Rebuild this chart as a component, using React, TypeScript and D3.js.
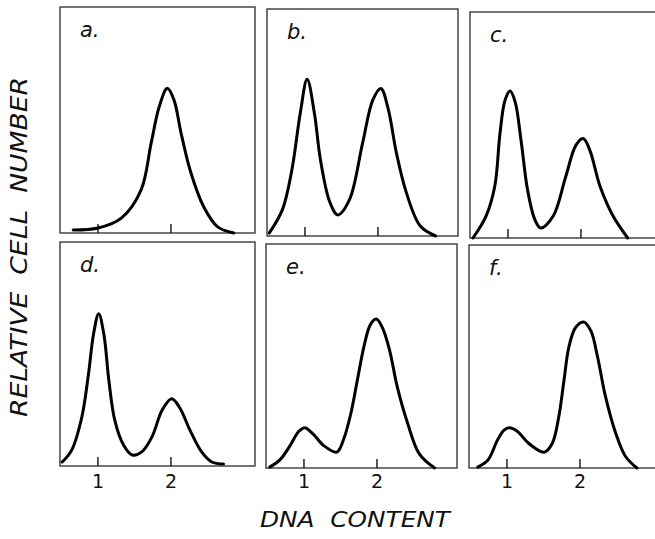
import * as d3 from "d3";

// DNA content (x) and relative cell number (y, fraction of panel height) per panel
const aDna = [0.66, 1.0, 1.32, 1.59, 1.73, 1.84, 1.95, 2.04, 2.14, 2.27, 2.45, 2.64, 2.86];
const aCells = [0.013, 0.022, 0.066, 0.19, 0.4, 0.56, 0.64, 0.59, 0.44, 0.27, 0.115, 0.027, 0];

const bDna = [0.51, 0.69, 0.82, 0.935, 1.03, 1.13, 1.21, 1.34, 1.45, 1.61, 1.79, 1.93, 2.04, 2.14, 2.25, 2.39, 2.58, 2.79];
const bCells = [0.013, 0.115, 0.29, 0.54, 0.69, 0.54, 0.34, 0.15, 0.093, 0.16, 0.41, 0.6, 0.65, 0.56, 0.37, 0.19, 0.044, 0];

const cDna = [0.52, 0.7, 0.82, 0.89, 0.96, 1.03, 1.1, 1.18, 1.27, 1.37, 1.45, 1.62, 1.79, 1.93, 2.03, 2.12, 2.26, 2.44, 2.64];
const cCells = [0, 0.097, 0.23, 0.46, 0.61, 0.65, 0.6, 0.43, 0.21, 0.08, 0.044, 0.097, 0.27, 0.41, 0.44, 0.39, 0.23, 0.097, 0];

const dDna = [0.51, 0.64, 0.78, 0.87, 0.94, 1.01, 1.08, 1.15, 1.23, 1.35, 1.47, 1.6, 1.74, 1.88, 2.01, 2.12, 2.26, 2.42, 2.56, 2.72];
const dCells = [0.018, 0.071, 0.22, 0.41, 0.59, 0.68, 0.59, 0.38, 0.205, 0.094, 0.049, 0.063, 0.13, 0.25, 0.3, 0.26, 0.16, 0.063, 0.018, 0.009];

const eDna = [0.53, 0.67, 0.81, 0.92, 1.01, 1.13, 1.27, 1.45, 1.54, 1.64, 1.73, 1.82, 1.91, 1.99, 2.07, 2.17, 2.28, 2.42, 2.58, 2.79];
const eCells = [0.004, 0.036, 0.1, 0.16, 0.18, 0.15, 0.1, 0.071, 0.125, 0.24, 0.39, 0.54, 0.64, 0.665, 0.63, 0.53, 0.36, 0.2, 0.063, 0];

const fDna = [0.6, 0.74, 0.87, 0.96, 1.03, 1.14, 1.3, 1.51, 1.62, 1.71, 1.78, 1.85, 1.94, 2.05, 2.15, 2.24, 2.35, 2.49, 2.62, 2.78];
const fCells = [0.004, 0.036, 0.125, 0.17, 0.18, 0.165, 0.11, 0.071, 0.11, 0.23, 0.39, 0.545, 0.63, 0.655, 0.615, 0.5, 0.32, 0.156, 0.054, 0];

const panelLabels = ["a.", "b.", "c.", "d.", "e.", "f."];
const tickValues = [1, 2];
const tickLabels = ["1", "2"];
const xTitle = "DNA  CONTENT";
const yTitle = "RELATIVE  CELL  NUMBER";

const series = [
  [aDna, aCells],
  [bDna, bCells],
  [cDna, cCells],
  [dDna, dCells],
  [eDna, eCells],
  [fDna, fCells],
];

// frame geometry (scan is slightly tilted)
const frames = [
  { left: 60, top: 7, bottom: 233, width: 195 },
  { left: 267, top: 9, bottom: 236, width: 191 },
  { left: 470, top: 12, bottom: 238, width: 195 },
  { left: 60, top: 242, bottom: 466, width: 195 },
  { left: 266, top: 244, bottom: 468, width: 191 },
  { left: 469, top: 245, bottom: 468, width: 195 },
];

const pxPerUnit = 73;
const domainStart = 0.48;
const font = "'DejaVu Sans', sans-serif";

export default function App() {
  return (
    <svg
      width={655}
      height={539}
      style={{ position: "absolute", left: 0, top: 0, background: "#fff" }}
    >
      {frames.map((f, i) => {
        const x = d3
          .scaleLinear()
          .domain([domainStart, domainStart + f.width / pxPerUnit])
          .range([f.left, f.left + f.width]);
        const y = d3.scaleLinear().domain([0, 1]).range([f.bottom, f.top]);
        const [xs, ys] = series[i];
        const line = d3
          .line<number>()
          .x((_, j) => x(xs[j]))
          .y((d) => Math.min(y(d), f.bottom))
          .curve(d3.curveCatmullRom.alpha(0.5));
        const bottomRow = i >= 3;
        return (
          <g key={i}>
            <rect
              x={f.left}
              y={f.top}
              width={f.width}
              height={f.bottom - f.top}
              fill="none"
              stroke="#2a2a2a"
              strokeWidth={1.3}
            />
            {tickValues.map((t, k) => (
              <g key={k}>
                <line
                  x1={x(t)}
                  x2={x(t)}
                  y1={f.bottom}
                  y2={f.bottom - 9}
                  stroke="#111"
                  strokeWidth={1.4}
                />
                {bottomRow && (
                  <text
                    x={x(t)}
                    y={488}
                    textAnchor="middle"
                    fontFamily={font}
                    fontSize={19}
                    fill="#111"
                  >
                    {tickLabels[k]}
                  </text>
                )}
              </g>
            ))}
            <path
              d={line(ys) ?? ""}
              fill="none"
              stroke="#000"
              strokeWidth={3}
              strokeLinejoin="round"
              strokeLinecap="round"
            />
            <text
              x={f.left + 20}
              y={f.top + 30}
              fontFamily={font}
              fontStyle="italic"
              fontSize={21}
              fill="#111"
            >
              {panelLabels[i]}
            </text>
          </g>
        );
      })}
      <text
        x={260}
        y={527}
        textLength={190}
        lengthAdjust="spacingAndGlyphs"
        fontFamily={font}
        fontStyle="italic"
        fontSize={21}
        fill="#111"
        style={{ whiteSpace: "pre" }}
      >
        {xTitle}
      </text>
      <text
        transform="translate(27,417) rotate(-90)"
        x={0}
        y={0}
        textLength={340}
        lengthAdjust="spacingAndGlyphs"
        fontFamily={font}
        fontStyle="italic"
        fontSize={23}
        fill="#111"
        style={{ whiteSpace: "pre" }}
      >
        {yTitle}
      </text>
    </svg>
  );
}
